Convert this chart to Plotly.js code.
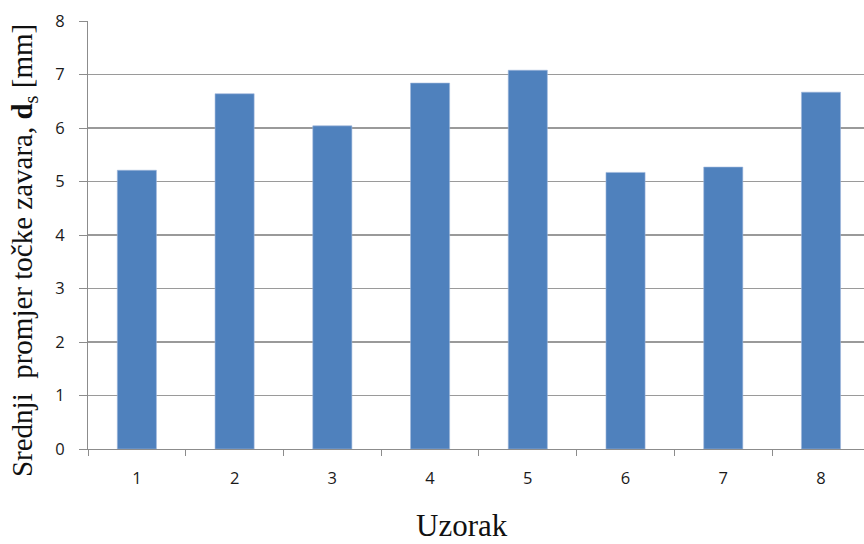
<!DOCTYPE html>
<html>
<head>
<meta charset="utf-8">
<script src="https://cdn.plot.ly/plotly-3.0.1.min.js"></script>
<style>html,body{margin:0;padding:0;background:#fff;}#chart{width:864px;height:544px;}</style>
</head>
<body>
<div id="chart"></div>
<script>
const categories = ['1', '2', '3', '4', '5', '6', '7', '8'];
const values = [5.21, 6.64, 6.04, 6.84, 7.08, 5.17, 5.27, 6.67];
const yTicks = [0, 1, 2, 3, 4, 5, 6, 7, 8];
const yTitle = 'Srednji  promjer točke zavara, <b>d</b><sub>s</sub> [mm]';
const xTitle = 'Uzorak';

const trace = {
  type: 'bar',
  x: categories,
  y: values,
  width: 0.4,
  marker: {color: '#4F81BD', line: {color: '#9fb7dc', width: 0.6}},
  hoverinfo: 'skip'
};

const layout = {
  width: 864, height: 544,
  margin: {l: 88, r: 0, t: 20.5, b: 94.7, pad: 0},
  paper_bgcolor: '#fff', plot_bgcolor: '#fff',
  showlegend: false,
  bargap: 0.6,
  xaxis: {
    type: 'category',
    range: [-0.5, 7.44],
    tickson: 'boundaries',
    ticks: 'outside', ticklen: 6, tickcolor: '#8c8c8c', tickwidth: 1,
    showline: true, linecolor: '#8c8c8c', linewidth: 1,
    showgrid: false, zeroline: false,
    ticklabelstandoff: 14,
    tickfont: {family: '"Open Sans", Lato, sans-serif', size: 16.5, color: '#1a1a1a'},
    fixedrange: true
  },
  yaxis: {
    range: [0, 8],
    tickvals: yTicks,
    ticktext: yTicks.map(String),
    ticks: 'outside', ticklen: 8, tickcolor: '#8c8c8c', tickwidth: 1,
    showline: true, linecolor: '#8c8c8c', linewidth: 1,
    showgrid: true, gridcolor: '#9a9a9a', gridwidth: 1.5,
    zeroline: false,
    ticklabelstandoff: 11,
    tickfont: {family: '"Open Sans", Lato, sans-serif', size: 16.5, color: '#1a1a1a'},
    fixedrange: true
  },
  annotations: [
    {
      text: yTitle, textangle: -90,
      xref: 'paper', yref: 'paper',
      x: (24 - 88) / 776, y: (449.3 - 251) / 428.8,
      xanchor: 'center', yanchor: 'middle', showarrow: false,
      font: {family: '"Liberation Serif", "DejaVu Serif", serif', size: 29, color: '#111'}
    },
    {
      text: xTitle,
      xref: 'paper', yref: 'paper',
      x: (462 - 88) / 776, y: (449.3 - 526) / 428.8,
      xanchor: 'center', yanchor: 'middle', showarrow: false,
      font: {family: '"Liberation Serif", "DejaVu Serif", serif', size: 31, color: '#111'}
    }
  ]
};

Plotly.newPlot('chart', [trace], layout, {staticPlot: true, displayModeBar: false});
</script>
</body>
</html>
